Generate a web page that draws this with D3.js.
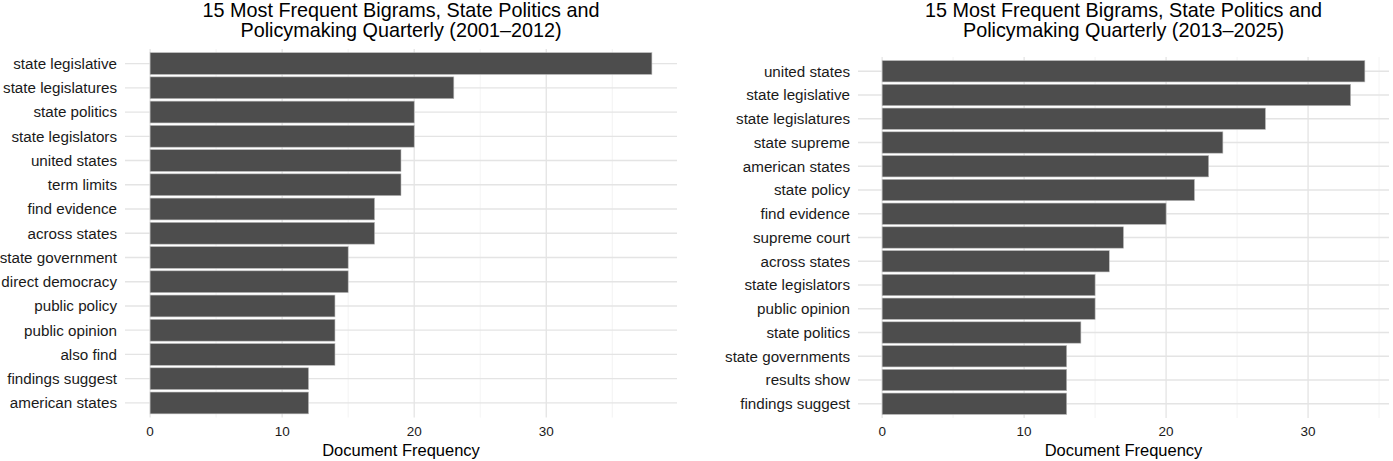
<!DOCTYPE html>
<html>
<head>
<meta charset="utf-8">
<script src="https://cdn.jsdelivr.net/npm/d3@7"></script>
<style>
  html, body { margin: 0; padding: 0; background: #fff; }
  svg { display: block; font-family: "Liberation Sans", Arial, Helvetica, sans-serif; }
</style>
</head>
<body>
<svg id="chart" width="1393" height="461"></svg>
<script>
// ---- Data ----
const leftTitle = ["15 Most Frequent Bigrams, State Politics and", "Policymaking Quarterly (2001–2012)"];
const leftTerms = ["state legislative", "state legislatures", "state politics", "state legislators",
  "united states", "term limits", "find evidence", "across states", "state government",
  "direct democracy", "public policy", "public opinion", "also find", "findings suggest", "american states"];
const leftCounts = [38, 23, 20, 20, 19, 19, 17, 17, 15, 15, 14, 14, 14, 12, 12];

const rightTitle = ["15 Most Frequent Bigrams, State Politics and", "Policymaking Quarterly (2013–2025)"];
const rightTerms = ["united states", "state legislative", "state legislatures", "state supreme",
  "american states", "state policy", "find evidence", "supreme court", "across states",
  "state legislators", "public opinion", "state politics", "state governments", "results show", "findings suggest"];
const rightCounts = [34, 33, 27, 24, 23, 22, 20, 17, 16, 15, 15, 14, 13, 13, 13];

const xTicks = [0, 10, 20, 30];
const xMinor = [5, 15, 25, 35];
const xLabel = "Document Frequency";

const svg = d3.select("#chart");

function panel(cfg) {
  const { terms, counts, title, left, right, top, bottom } = cfg;
  const maxV = d3.max(counts);
  const pad = maxV * 0.05;
  const x = d3.scaleLinear().domain([-pad, maxV + pad]).range([left, right]);
  // discrete axis: 0.6 unit expansion each side
  const y = d3.scalePoint().domain(terms).range([top, bottom]).padding(0.6);
  const step = y.step();
  const bh = step * 0.9;

  const g = svg.append("g");
  // minor vertical grid
  g.selectAll("line.minor").data(xMinor.filter(v => v <= maxV + pad)).join("line")
    .attr("x1", d => x(d)).attr("x2", d => x(d))
    .attr("y1", top).attr("y2", bottom)
    .attr("stroke", "#F0F0F0").attr("stroke-width", 0.8);
  // major vertical grid
  g.selectAll("line.majx").data(xTicks).join("line")
    .attr("x1", d => x(d)).attr("x2", d => x(d))
    .attr("y1", top).attr("y2", bottom)
    .attr("stroke", "#E4E4E4").attr("stroke-width", 1.3);
  // horizontal grid
  g.selectAll("line.majy").data(terms).join("line")
    .attr("x1", left).attr("x2", right)
    .attr("y1", d => y(d)).attr("y2", d => y(d))
    .attr("stroke", "#E4E4E4").attr("stroke-width", 1.3);
  // bars
  g.selectAll("rect").data(terms).join("rect")
    .attr("x", x(0))
    .attr("y", d => y(d) - bh / 2)
    .attr("width", (d, i) => x(counts[i]) - x(0))
    .attr("height", bh)
    .attr("fill", "#4D4D4D")
    .attr("stroke", "#BDBDBD").attr("stroke-width", 0.6);
  // y labels
  g.selectAll("text.yl").data(terms).join("text")
    .attr("x", left - 8).attr("y", d => y(d))
    .attr("dy", "0.35em")
    .attr("text-anchor", "end")
    .attr("font-size", 15.2).attr("fill", "#1A1A1A")
    .text(d => d);
  // x tick labels
  g.selectAll("text.xl").data(xTicks).join("text")
    .attr("x", d => x(d)).attr("y", 436)
    .attr("text-anchor", "middle")
    .attr("font-size", 13.5).attr("fill", "#1A1A1A")
    .text(d => d);
  // x axis title
  g.append("text")
    .attr("x", (left + right) / 2).attr("y", 456)
    .attr("text-anchor", "middle")
    .attr("font-size", 16.5).attr("fill", "#000")
    .text(xLabel);
  // title
  g.selectAll("text.tt").data(title).join("text")
    .attr("x", (left + right) / 2).attr("y", (d, i) => 17 + i * 20)
    .attr("text-anchor", "middle")
    .attr("font-size", 19.8).attr("fill", "#000")
    .text(d => d);
}

panel({ terms: leftTerms, counts: leftCounts, title: leftTitle, left: 125, right: 677, top: 49, bottom: 417.5 });
panel({ terms: rightTerms, counts: rightCounts, title: rightTitle, left: 858, right: 1389, top: 57, bottom: 418 });
</script>
</body>
</html>
